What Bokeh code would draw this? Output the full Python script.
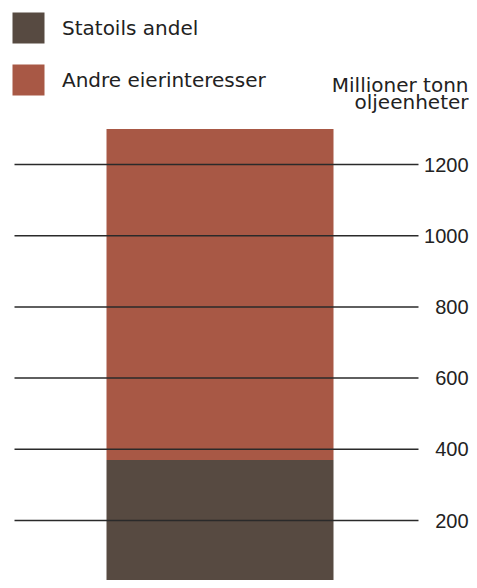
from bokeh.plotting import figure
from bokeh.models import Legend, LegendItem, ColumnDataSource, Range1d
from bokeh.core.properties import value
from bokeh.embed import file_html
from bokeh.resources import INLINE

# Data
categories = [0]                      # single stacked bar
statoil = [370]                       # Statoils andel (mill. tonn o.e.)
andre = [930]                         # Andre eierinteresser
series_names = ["Statoils andel", "Andre eierinteresser"]
colors = ["#574a41", "#a85845"]
ticks = [200, 400, 600, 800, 1000, 1200]
tick_labels = [str(t) for t in ticks]
unit_lines = ["Millioner tonn", "oljeenheter"]

p = figure(width=469, height=580, output_backend="svg", toolbar_location=None,
           x_range=Range1d(-0.967, 1.0991), y_range=Range1d(31.5, 1660.7),
           x_axis_location=None, y_axis_location=None,
           min_border_left=0, min_border_right=0, min_border_top=0, min_border_bottom=0)
p.outline_line_color = None
p.xgrid.visible = False
p.ygrid.visible = False
p.background_fill_color = "white"

src = ColumnDataSource(dict(x=categories, s=statoil, a=andre))
rs = p.vbar_stack(["s", "a"], x="x", width=1.0, source=src, color=colors, line_color=None)

# horizontal reference lines at tick values
p.segment(x0=[-0.9053] * len(ticks), x1=[0.8744] * len(ticks), y0=ticks, y1=ticks,
          line_color="#2a2a2a", line_width=1.5)

# tick labels
p.text(x=[1.0947] * len(ticks), y=ticks, text=tick_labels,
       text_align="right", text_baseline="middle",
       text_font=value("Liberation Sans"), text_font_size="20px", text_color="#222222")

# unit title
p.text(x=[1.0947, 1.0947], y=[1424.7, 1374.2], text=unit_lines,
       text_align="right", text_baseline="alphabetic",
       text_font=value("DejaVu Sans"), text_font_size="20px", text_color="#222222")

legend = Legend(items=[LegendItem(label=series_names[0], renderers=[rs[0]]),
                       LegendItem(label=series_names[1], renderers=[rs[1]])],
                location="top_left", margin=8, padding=0, spacing=13,
                glyph_width=40, glyph_height=39, label_standoff=14,
                label_text_font="DejaVu Sans", label_text_font_size="20px",
                label_text_color="#222222", label_text_baseline="middle",
                background_fill_alpha=0, border_line_alpha=0)
p.add_layout(legend)

open("out.html", "w").write(file_html(p, INLINE))
